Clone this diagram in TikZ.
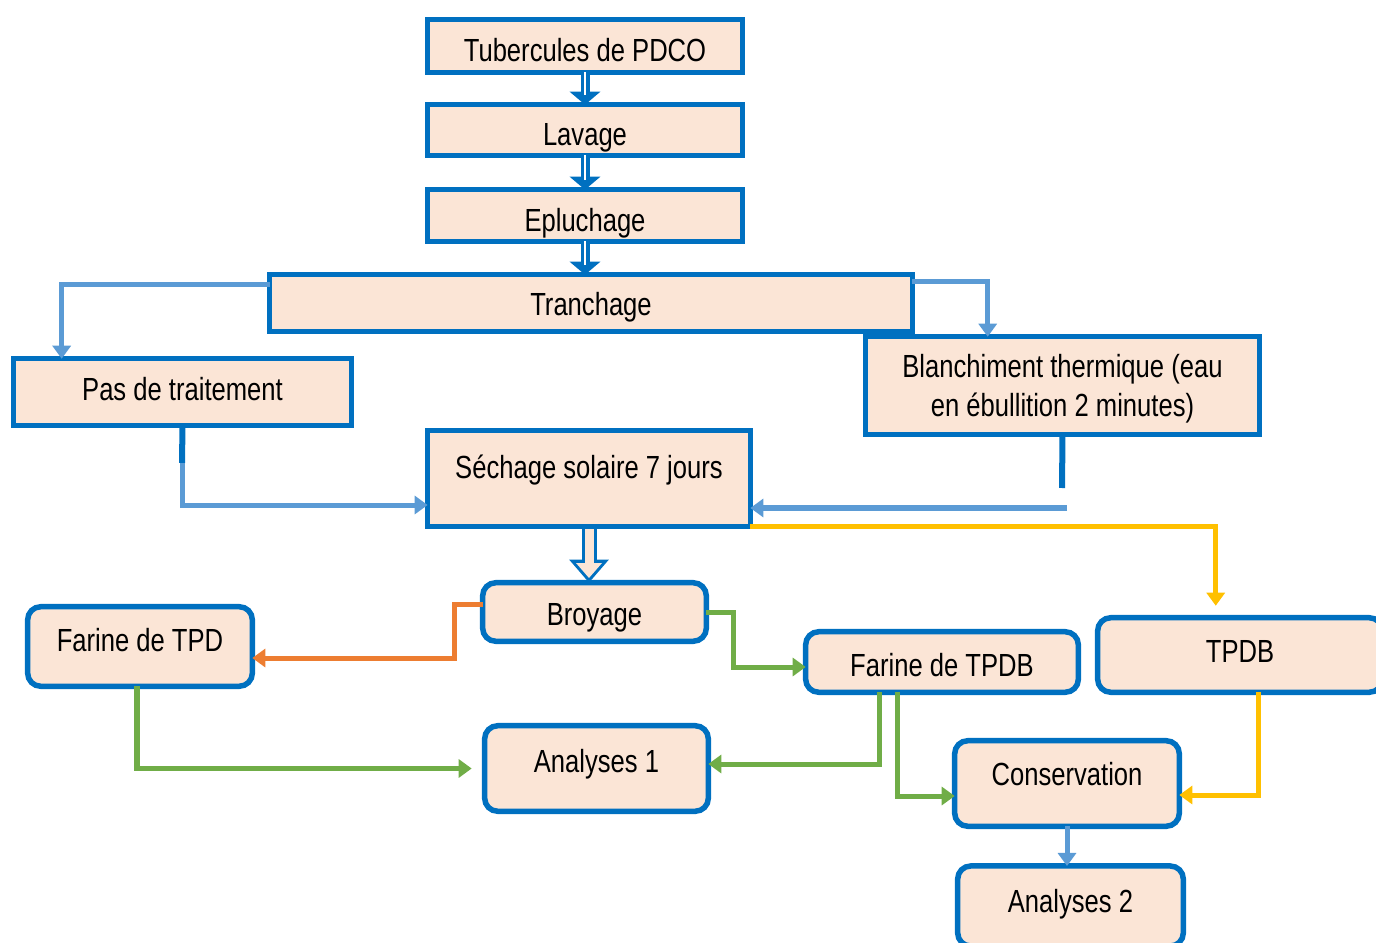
\documentclass[tikz,border=0pt]{standalone}
\usepackage{fontspec}
\setmainfont[FakeStretch=0.8]{Liberation Sans}
\usetikzlibrary{arrows.meta}

\definecolor{pdblue}{HTML}{0070C0}
\definecolor{pdfill}{HTML}{FBE5D6}
\definecolor{pdlight}{HTML}{5B9BD5}
\definecolor{pdorange}{HTML}{ED7D31}
\definecolor{pdgreen}{HTML}{70AD47}
\definecolor{pdyellow}{HTML}{FFC000}

\tikzset{
  stage/.style={draw=pdblue, fill=pdfill, line width=0.055cm, inner sep=0pt, outer sep=0pt,
    text height=0.23cm, text depth=0cm, font=\fontsize{9.1pt}{11pt}\selectfont},
  roundstage/.style={stage, rounded corners=0.13cm},
  flow/.style={line width=0.05cm, -{Triangle[width=0.18cm,length=0.13cm]}},
  stub/.style={draw=pdblue, line width=0.06cm},
  fatflow/.style={draw=pdblue, line width=0.09cm, -{Triangle[width=0.30cm,length=0.13cm]},
    postaction={draw=white, line width=0.012cm, -, shorten >=0.10cm}},
  hollowflow/.style={draw=pdblue, line width=0.15cm, -{Triangle[width=0.38cm,length=0.23cm]},
    postaction={draw=pdfill, line width=0.09cm, -{Triangle[width=0.25cm,length=0.15cm]},
      shorten >=0.047cm, shorten <=0.03cm}}
}

\begin{document}
\begin{tikzpicture}[x=0.01cm, y=-0.01cm]
\useasboundingbox (0,0) rectangle (1376,943);

\node[stage, minimum width=3.145cm, minimum height=0.525cm, text height=0.31cm] (tub) at (585,46) {Tubercules de PDCO};
\node[stage, minimum width=3.145cm, minimum height=0.505cm, text height=0.31cm] (lav) at (585,130) {Lavage};
\node[stage, minimum width=3.145cm, minimum height=0.515cm, text height=0.31cm] (epl) at (585,215.5) {Epluchage};
\node[stage, minimum width=6.425cm, minimum height=0.565cm, text height=0.25cm] (tra) at (591,303) {Tranchage};
\node[stage, minimum width=3.375cm, minimum height=0.665cm, text depth=0.06cm] (pas) at (182.5,392) {Pas de traitement};
\node[stage, minimum width=3.935cm, minimum height=0.975cm, align=center, text height=0.62cm, text depth=0cm] (bla) at (1062.5,385.5) {Blanchiment thermique (eau\\en ébullition 2 minutes)};
\node[stage, minimum width=3.225cm, minimum height=0.955cm, text depth=0.23cm] (sec) at (589,478.5) {Séchage solaire 7 jours};

\node[roundstage, minimum width=2.235cm, minimum height=0.585cm, text height=0.27cm] (broy) at (594.5,612) {Broyage};
\node[roundstage, minimum width=2.245cm, minimum height=0.795cm, text depth=0.13cm] (ftpd) at (140,646.5) {Farine de TPD};
\node[roundstage, minimum width=2.725cm, minimum height=0.605cm, text height=0.29cm] (ftpdb) at (942,662) {Farine de TPDB};
\node[roundstage, minimum width=2.845cm, minimum height=0.745cm, text depth=0.08cm] (tpdb) at (1240,655) {TPDB};
\node[roundstage, minimum width=2.235cm, minimum height=0.855cm, text depth=0.15cm] (an1) at (596.5,768.5) {Analyses 1};
\node[roundstage, minimum width=2.245cm, minimum height=0.855cm, text depth=0.19cm] (cons) at (1067,783.5) {Conservation};
\node[roundstage, minimum width=2.255cm, minimum height=0.80cm, text depth=0.10cm] (an2) at (1070.5,906) {Analyses 2};

\draw[fatflow] (tub.south) -- (lav.north);
\draw[fatflow] (lav.south) -- (epl.north);
\draw[fatflow] (epl.south) -- (epl.south |- tra.north);
\draw[hollowflow] (sec.south) -- (sec.south |- broy.north);

\draw[flow, pdlight] ([yshift=0.18cm]tra.west) -| ([xshift=0.48cm]pas.north west);
\draw[flow, pdlight] ([yshift=0.21cm]tra.east) -| ([xshift=1.22cm]bla.north west);

\coordinate (pasdrop) at (182,463);
\draw[stub] (pas.south) -- (pasdrop);
\draw[flow, pdlight] (pasdrop) |- ([yshift=-0.265cm]sec.west);

\coordinate (bladrop) at (1062,488);
\coordinate (blaback) at (1067,508);
\draw[stub] (bla.south) -- (bladrop);
\draw[flow, pdlight] (blaback) -- (sec.east |- blaback);

\draw[flow, pdyellow, shorten >=0.12cm] (sec.south east) -| ([xshift=1.18cm]tpdb.north west);
\draw[flow, pdorange] ([yshift=0.07cm]broy.west) -- ++(-28,0) |- ([yshift=-0.115cm]ftpd.east);
\draw[flow, pdgreen] (broy.east) -- ++(27,0) |- ([yshift=-0.05cm]ftpdb.west);
\draw[flow, pdgreen, shorten >=0.13cm] ([xshift=-0.03cm]ftpd.south) |- (an1.west);
\draw[flow, pdgreen] ([xshift=-0.62cm]ftpdb.south) |- ([yshift=0.045cm]an1.east);
\draw[flow, pdgreen] ([xshift=-0.44cm]ftpdb.south) |- ([yshift=-0.125cm]cons.west);
\draw[flow, pdyellow] ([xshift=0.18cm]tpdb.south) |- ([yshift=-0.115cm]cons.east);
\draw[flow, pdlight] (cons.south) -- (cons.south |- an2.north);
\end{tikzpicture}
\end{document}
